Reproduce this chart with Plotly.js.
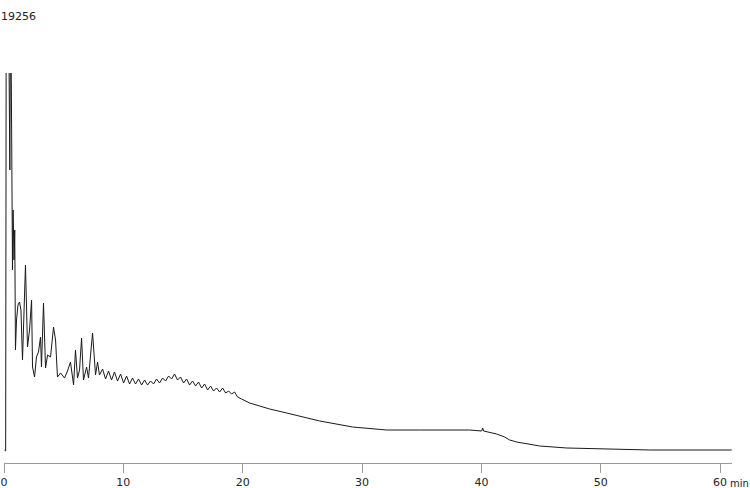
<!DOCTYPE html>
<html>
<head>
<meta charset="utf-8">
<script src="https://cdn.plot.ly/plotly-3.0.1.min.js"></script>
<style>html,body{margin:0;padding:0;background:#fff;}#chart{width:750px;height:488px;}</style>
</head>
<body>
<div id="chart"></div>
<script>
// Retention time (min)
const timeMin = [
  0.04, 0.14, 0.18, 0.29, 0.42, 0.49, 0.53, 0.60, 0.65, 0.71, 0.76, 0.84, 0.90, 0.96, 1.05, 1.17,
  1.30, 1.42, 1.55, 1.68, 1.80, 1.97, 2.14, 2.31, 2.39, 2.56, 2.72, 2.89, 3.06, 3.14, 3.31, 3.48,
  3.65, 3.90, 4.15, 4.32, 4.48, 4.74, 5.07, 5.32, 5.57, 5.83, 5.99, 6.16, 6.33, 6.50, 6.66, 6.92,
  7.08, 7.42, 7.67, 7.84, 8.00, 8.26, 8.51, 8.76, 9.01, 9.26, 9.51, 9.77, 10.02, 10.27, 10.52, 10.77,
  11.02, 11.27, 11.53, 11.78, 12.03, 12.28, 12.53, 12.78, 13.03, 13.29, 13.54, 13.79, 14.04, 14.29, 14.54, 14.79,
  15.05, 15.30, 15.55, 15.80, 16.05, 16.30, 16.56, 16.81, 17.06, 17.31, 17.56, 17.81, 18.07, 18.32, 18.57, 18.82,
  19.07, 19.32, 19.57, 19.91, 20.24, 20.58, 21.42, 22.26, 23.68, 24.77, 26.45, 29.21, 32.06, 34.83, 39.02, 40.03,
  40.11, 40.19, 41.28, 41.95, 42.37, 42.96, 44.89, 47.15, 49.92, 54.11, 60.98
];
// Detector signal
const signal = [
  642, 592, 19896, 20884, 19896, 14465, 19896, 19896, 15453, 9528, 12491, 10022, 11503, 5579, 7060, 7800,
  7949, 7554, 5085, 8047, 9775, 5727, 6566, 8047, 4740, 4246, 5233, 5480, 6221, 4740, 7899, 4690,
  5332, 5233, 6714, 6073, 4246, 4443, 4196, 4542, 4986, 3851, 5579, 4196, 4591, 6171, 4098, 4740,
  4196, 6418, 4345, 4986, 4345, 4641, 4147, 4542, 4098, 4493, 4048, 4394, 3950, 4295, 3900, 4196,
  3900, 4147, 3851, 4098, 3851, 4048, 3900, 4147, 3950, 4196, 4048, 4295, 4147, 4394, 4098, 4246,
  3950, 4147, 3851, 4048, 3801, 3999, 3703, 3900, 3604, 3801, 3555, 3703, 3505, 3703, 3456, 3555,
  3407, 3505, 3258, 3160, 3061, 2962, 2814, 2666, 2469, 2320, 2074, 1777, 1629, 1629, 1629, 1580,
  1728, 1580, 1432, 1284, 1136, 1037, 839, 741, 691, 642, 642
];
const xTicks = [0, 10, 20, 30, 40, 50, 60];
const fullScaleLabel = "19256";
const unitLabel = "min";

const trace = {
  x: timeMin, y: signal, type: 'scatter', mode: 'lines',
  line: {color: '#1a1a1a', width: 1}, hoverinfo: 'skip', cliponaxis: true
};

const layout = {
  width: 750, height: 488,
  margin: {l: 4, r: 18, t: 73, b: 25, pad: 0},
  paper_bgcolor: '#fff', plot_bgcolor: '#fff',
  showlegend: false,
  font: {family: 'DejaVu Sans, Verdana, sans-serif', size: 11, color: '#222'},
  xaxis: {
    range: [0, 61], showgrid: false, zeroline: false,
    showline: true, linecolor: '#999', linewidth: 1,
    ticks: 'outside', ticklen: 9, tickcolor: '#999', tickwidth: 1,
    tickvals: xTicks, ticktext: xTicks.map(String),
    tickfont: {family: 'DejaVu Sans, Verdana, sans-serif', size: 11, color: '#222'},
    fixedrange: true
  },
  yaxis: {
    range: [0, 19256], visible: false, showgrid: false, zeroline: false, fixedrange: true
  },
  annotations: [
    {text: fullScaleLabel, xref: 'paper', yref: 'paper', x: -0.0055, y: 1.1436,
     xanchor: 'left', yanchor: 'middle', showarrow: false, borderpad: 0,
     font: {family: 'DejaVu Sans, Verdana, sans-serif', size: 11, color: '#222'}},
    {text: unitLabel, xref: 'paper', yref: 'paper', x: 1.0245, y: -0.0513,
     xanchor: 'right', yanchor: 'middle', showarrow: false, borderpad: 0,
     font: {family: 'DejaVu Sans, Verdana, sans-serif', size: 10, color: '#222'}}
  ]
};

Plotly.newPlot('chart', [trace], layout, {staticPlot: true, displayModeBar: false});
</script>
</body>
</html>
